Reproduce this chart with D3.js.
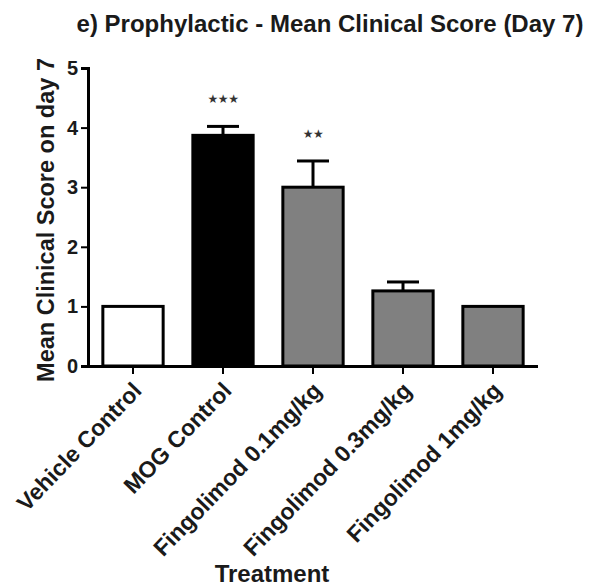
<!DOCTYPE html>
<meta charset="utf-8">
<head>
  <title>Prophylactic - Mean Clinical Score</title>
</head>
<style>
body { margin: 0; background: #fff; }
text { font-family: Arial, "Liberation Sans", sans-serif; font-weight: bold; fill: #1a1a1a; }
</style>
<body>
<svg width="590" height="588"></svg>
<script src="https://cdnjs.cloudflare.com/ajax/libs/d3/7.8.5/d3.min.js"></script>
<script>
// values
var groups = ["Vehicle Control", "MOG Control", "Fingolimod 0.1mg/kg", "Fingolimod 0.3mg/kg", "Fingolimod 1mg/kg"];
var means  = [1.0, 3.87, 3.0, 1.26, 1.0];
var sems   = [0, 0.15, 0.44, 0.15, 0];
var stars  = ["", "★★★", "★★", "", ""];
var fills  = ["#ffffff", "#000000", "#808080", "#808080", "#808080"];
var yTicks = [0, 1, 2, 3, 4, 5];

var svg = d3.select("svg");

var x = d3.scaleBand()
    .domain(groups)
    .range([88, 538])
    .paddingInner(0.33)
    .paddingOuter(0.165);

var y = d3.scaleLinear()
    .domain([0, 5])
    .range([366, 68]);

var data = groups.map(function(g, i) {
    return {name: g, mean: means[i], sem: sems[i], star: stars[i], fill: fills[i]};
});

// bars
svg.selectAll("rect.bar")
    .data(data)
    .enter()
    .append("rect")
    .attr("class", "bar")
    .attr("x", d => x(d.name))
    .attr("width", x.bandwidth())
    .attr("y", d => y(d.mean))
    .attr("height", d => y(0) - y(d.mean))
    .style("fill", d => d.fill)
    .style("stroke", "#000")
    .style("stroke-width", 3);

// error bars (upper only)
var eb = svg.selectAll("g.err")
    .data(data.filter(d => d.sem > 0))
    .enter()
    .append("g");

eb.append("line")
    .attr("x1", d => x(d.name) + x.bandwidth() / 2)
    .attr("x2", d => x(d.name) + x.bandwidth() / 2)
    .attr("y1", d => y(d.mean))
    .attr("y2", d => y(d.mean + d.sem))
    .style("stroke", "#000")
    .style("stroke-width", 3);

eb.append("line")
    .attr("x1", d => x(d.name) + x.bandwidth() / 2 - 16)
    .attr("x2", d => x(d.name) + x.bandwidth() / 2 + 16)
    .attr("y1", d => y(d.mean + d.sem))
    .attr("y2", d => y(d.mean + d.sem))
    .style("stroke", "#000")
    .style("stroke-width", 3);

// significance stars, placed above the error bar
svg.selectAll("text.star")
    .data(data.filter(d => d.star))
    .enter()
    .append("text")
    .attr("x", d => x(d.name) + x.bandwidth() / 2)
    .attr("y", d => y(d.mean + d.sem) - 23)
    .attr("text-anchor", "middle")
    .style("font-family", "'DejaVu Sans', sans-serif")
    .style("font-size", "12px")
    .style("font-weight", "normal")
    .style("letter-spacing", "-0.5px")
    .style("fill", "#333")
    .text(d => d.star);

// y axis
var yAxis = svg.append("g")
    .attr("transform", "translate(88,0)")
    .call(d3.axisLeft(y).tickValues(yTicks).tickFormat(d3.format("d")).tickSize(7).tickPadding(3));

// x axis
var xAxis = svg.append("g")
    .attr("transform", "translate(0,366)")
    .call(d3.axisBottom(x).tickSize(8).tickSizeOuter(0).tickFormat(""));

xAxis.select(".domain").attr("d", "M86.5,0.5H538");
svg.selectAll(".domain").style("stroke", "#000").style("stroke-width", 3);
svg.selectAll(".tick line").style("stroke", "#000").style("stroke-width", 2);

yAxis.selectAll("text")
    .style("font-size", "20px")
    .style("font-family", "Arial, 'Liberation Sans', sans-serif")
    .style("font-weight", "bold")
    .style("fill", "#1a1a1a");

// rotated category labels
svg.selectAll("text.cat")
    .data(groups)
    .enter()
    .append("text")
    .attr("class", "cat")
    .attr("text-anchor", "end")
    .attr("transform", d => "translate(" + (x(d) + x.bandwidth() / 2 + 10) + ",392) rotate(-46)")
    .style("font-size", "23px")
    .text(d => d);

// title
svg.append("text")
    .attr("x", 330)
    .attr("y", 32)
    .attr("text-anchor", "middle")
    .style("font-size", "24px")
    .text("e) Prophylactic - Mean Clinical Score (Day 7)");

// axis titles
svg.append("text")
    .attr("transform", "translate(54,220) rotate(-90)")
    .attr("text-anchor", "middle")
    .style("font-size", "23.5px")
    .text("Mean Clinical Score on day 7");

svg.append("text")
    .attr("x", 272)
    .attr("y", 582)
    .attr("text-anchor", "middle")
    .style("font-size", "24px")
    .text("Treatment");
</script>
</body>
</html>
